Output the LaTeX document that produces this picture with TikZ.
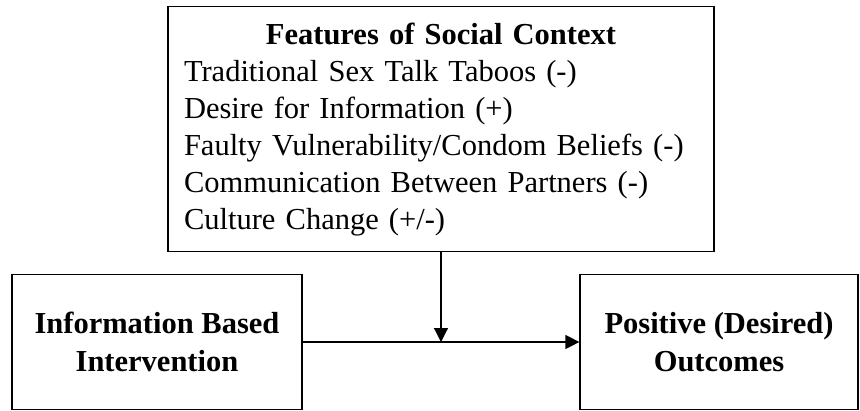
\documentclass[tikz,border=0pt]{standalone}
\usepackage{fontspec}
\setmainfont{Liberation Serif}
\usepackage{tikz}
\usetikzlibrary{arrows.meta,positioning,calc}

\begin{document}
\begin{tikzpicture}[
    x=1pt, y=-1pt,
    >={Triangle[length=14pt, width=14pt]},
    box/.style={rectangle, draw, line width=1.2pt, inner sep=0pt, font=\fontsize{30.5}{37}\selectfont, align=center},
    headbox/.style={box, font=\fontsize{30.5}{38}\selectfont\bfseries},
    link/.style={->, line width=1.2pt},
]
\useasboundingbox (0,0) rectangle (860,410);

% Context box
\node[box, minimum width=546pt, minimum height=245pt, text width=514pt, align=left] (ctx) at (441,129.2) {%
    \hfil\textbf{Features of Social Context}\hfil\\
    Traditional Sex Talk Taboos (-)\\
    Desire for Information (+)\\
    Faulty Vulnerability/Condom Beliefs (-)\\
    Communication Between Partners (-)\\
    Culture Change (+/-)};

% Intervention and outcome
\node[headbox, minimum width=290pt, minimum height=135pt] (info) at (157,342) {Information Based\\Intervention};
\node[headbox, minimum width=278pt, minimum height=135pt] (outc) at (719,342) {Positive (Desired)\\Outcomes};

% Arrows
\coordinate (join) at (ctx.south |- info.east);
\draw[link] (info.east) -- (outc.west);
\draw[link] (ctx.south) -- (join);

\end{tikzpicture}
\end{document}
